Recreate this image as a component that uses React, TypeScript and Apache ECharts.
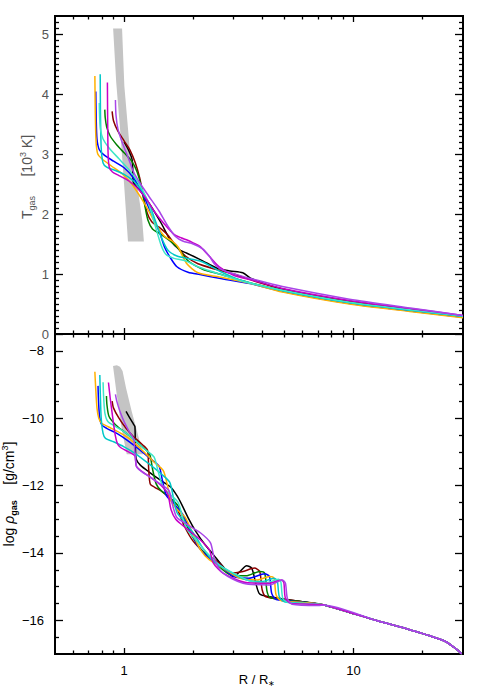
import React, { useEffect, useRef } from "react";
import * as echarts from "echarts";

// ---------- axis ranges & ticks ----------
const R_MIN = 0.5;
const R_MAX = 30;
const T_MIN = 0;
const T_MAX = 5.3;
const RHO_MIN = -17;
const RHO_MAX = -7.5;

const xMajorTicks = [1, 10];
const xMinorTicks = [0.6, 0.7, 0.8, 0.9, 2, 3, 4, 5, 6, 7, 8, 9, 20];
const tMajorTicks = [0, 1, 2, 3, 4, 5];
const rhoMajorTicks = [-16, -14, -12, -10, -8];

// ---------- gray bands (R, value) ----------
const bandT = [
  [0.896, 5.09], [0.924, 4.2], [0.966, 3.3], [1.004, 2.4], [1.04, 1.54],
  [1.22, 1.54], [1.2, 1.9], [1.14, 2.5], [1.062, 3.02], [1.003, 4.13], [0.98, 5.09],
];
const bandRho = [
  [0.895, -8.45], [0.925, -9.2], [0.96, -10.0], [0.995, -10.6], [1.027, -11.07],
  [1.21, -11.07], [1.15, -10.5], [1.08, -9.8], [1.02, -9.1], [0.985, -8.6], [0.96, -8.47], [0.93, -8.43],
];

// ---------- top panel: T_gas [10^3 K] vs R ----------
const tOrange = [[0.746,4.30],[0.749,3.7],[0.755,3.2],[0.768,3.0],[0.80,2.92],[0.88,2.8],[0.98,2.67],[1.08,2.5],[1.18,2.28],[1.28,2.05],[1.38,1.82],[1.5,1.63],[1.62,1.55],[1.72,1.45],[1.87,1.18],[2.1,1.02],[2.6,0.95],[3.5,0.85],[4.9,0.7],[9.6,0.5],[18,0.37],[30,0.27]];
const tBlue = [[0.753,4.04],[0.756,3.6],[0.762,3.25],[0.78,3.07],[0.82,2.98],[0.9,2.88],[1.0,2.77],[1.1,2.6],[1.2,2.35],[1.3,2.05],[1.38,1.82],[1.43,1.69],[1.5,1.45],[1.58,1.29],[1.7,1.12],[1.9,1.03],[2.14,0.99],[2.6,0.93],[3.53,0.84],[4.9,0.71],[9.6,0.51],[18,0.38],[30,0.28]];
const tCyan = [[0.787,4.33],[0.789,3.7],[0.795,3.1],[0.81,2.85],[0.84,2.78],[0.91,2.73],[1.0,2.66],[1.1,2.55],[1.2,2.38],[1.3,2.12],[1.38,1.85],[1.45,1.62],[1.55,1.4],[1.7,1.3],[1.95,1.25],[2.2,1.2],[2.6,1.05],[3.2,0.9],[4.9,0.72],[9.6,0.52],[18,0.39],[30,0.29]];
const tTurq = [[0.78,3.85],[0.783,3.6],[0.79,3.4],[0.81,3.25],[0.86,3.1],[0.95,2.92],[1.05,2.74],[1.15,2.53],[1.25,2.27],[1.32,2.0],[1.38,1.75],[1.45,1.48],[1.52,1.33],[1.65,1.26],[1.85,1.22],[2.1,1.12],[2.6,1.0],[3.3,0.88],[4.9,0.73],[9.6,0.53],[18,0.4],[30,0.3]];
const tGreen = [[0.824,3.74],[0.828,3.6],[0.84,3.45],[0.87,3.3],[0.93,3.15],[1.0,3.02],[1.08,2.88],[1.14,2.7],[1.19,2.45],[1.23,2.15],[1.27,1.9],[1.33,1.75],[1.42,1.68],[1.55,1.58],[1.7,1.45],[1.9,1.22],[2.2,1.08],[2.6,1.0],[3.5,0.86],[4.9,0.73],[9.6,0.53],[18,0.4],[30,0.3]];
const tMagenta = [[0.846,4.19],[0.848,3.6],[0.852,3.0],[0.862,2.78],[0.89,2.7],[0.95,2.64],[1.05,2.55],[1.15,2.42],[1.25,2.25],[1.35,2.05],[1.5,1.83],[1.65,1.66],[1.78,1.6],[1.87,1.57],[2.0,1.52],[2.14,1.46],[2.36,1.29],[2.6,1.12],[3.0,0.98],[3.6,0.9],[4.9,0.76],[9.6,0.56],[18,0.42],[30,0.31]];
const tDarkred = [[0.887,3.71],[0.9,3.55],[0.94,3.38],[1.0,3.22],[1.06,3.07],[1.12,2.85],[1.17,2.6],[1.21,2.32],[1.26,2.02],[1.32,1.87],[1.42,1.78],[1.55,1.65],[1.7,1.45],[1.85,1.3],[2.1,1.17],[2.5,1.08],[3.0,1.0],[4.0,0.84],[6,0.68],[9.6,0.54],[18,0.41],[30,0.3]];
const tPurple = [[0.917,3.9],[0.922,3.65],[0.94,3.42],[0.98,3.2],[1.04,2.95],[1.1,2.7],[1.18,2.5],[1.28,2.3],[1.42,2.05],[1.55,1.8],[1.68,1.62],[1.8,1.55],[2.0,1.5],[2.2,1.42],[2.35,1.3],[2.5,1.15],[2.7,1.06],[3.1,0.99],[3.6,0.92],[4.9,0.79],[9.6,0.58],[18,0.43],[30,0.31]];
const tBlack = [[1.0,3.2],[1.05,3.05],[1.085,2.9],[1.092,2.65],[1.1,2.52],[1.18,2.38],[1.3,2.15],[1.45,1.85],[1.6,1.55],[1.75,1.4],[1.87,1.35],[2.2,1.22],[2.53,1.1],[2.9,1.05],[3.29,1.02],[3.6,0.92],[4.9,0.75],[9.6,0.54],[18,0.4],[30,0.3]];

// ---------- bottom panel: log rho_gas vs R ----------
const rhoTail = [[7.5,-15.55],[12.5,-16.0],[18,-16.3],[25,-16.62],[28,-16.85],[29.6,-17.0]];
const rOrange = [[0.746,-8.62],[0.752,-9.1],[0.762,-9.7],[0.776,-10.0],[0.80,-10.15],[0.88,-10.3],[0.97,-10.45],[1.06,-10.62],[1.2,-10.95],[1.35,-11.3],[1.48,-11.55],[1.54,-11.95],[1.6,-12.45],[1.7,-12.7],[1.85,-12.95],[2.0,-13.45],[2.15,-13.9],[2.35,-14.2],[2.7,-14.45],[3.2,-14.75],[3.8,-14.8],[4.3,-14.7],[4.5,-14.75],[4.6,-15.25],[4.85,-15.42],[6.0,-15.47]];
const rBlue = [[0.77,-9.04],[0.774,-9.5],[0.782,-9.95],[0.8,-10.2],[0.84,-10.3],[0.93,-10.45],[1.03,-10.65],[1.15,-10.9],[1.3,-11.2],[1.42,-11.42],[1.47,-11.85],[1.53,-12.3],[1.63,-12.5],[1.8,-12.85],[1.95,-13.35],[2.1,-13.8],[2.3,-14.1],[2.6,-14.35],[3.0,-14.7],[3.5,-14.75],[4.1,-14.62],[4.3,-14.7],[4.4,-15.2],[4.6,-15.38],[6.0,-15.46]];
const rCyan = [[0.784,-8.72],[0.788,-9.3],[0.795,-10.0],[0.81,-10.45],[0.83,-10.6],[0.9,-10.7],[1.0,-10.85],[1.12,-11.05],[1.28,-11.35],[1.45,-11.65],[1.58,-11.9],[1.64,-12.35],[1.7,-12.8],[1.82,-13.05],[2.0,-13.4],[2.2,-13.85],[2.45,-14.25],[2.8,-14.5],[3.4,-14.8],[4.0,-14.85],[4.5,-14.75],[4.65,-14.82],[4.75,-15.3],[5.0,-15.45],[6.2,-15.5]];
const rTurq = [[0.81,-8.93],[0.815,-9.4],[0.825,-9.85],[0.85,-10.1],[0.92,-10.25],[1.0,-10.4],[1.1,-10.62],[1.22,-10.9],[1.35,-11.15],[1.41,-11.6],[1.48,-12.05],[1.58,-12.25],[1.72,-12.5],[1.8,-12.95],[1.88,-13.3],[2.05,-13.6],[2.3,-14.0],[2.6,-14.35],[3.0,-14.6],[3.6,-14.85],[4.2,-14.88],[4.7,-14.78],[4.82,-14.85],[4.92,-15.35],[5.2,-15.47],[6.3,-15.5]];
const rGreen = [[0.838,-9.34],[0.842,-9.6],[0.86,-9.95],[0.92,-10.2],[1.0,-10.4],[1.1,-10.62],[1.2,-10.85],[1.29,-11.05],[1.33,-11.5],[1.38,-11.95],[1.45,-12.15],[1.58,-12.35],[1.72,-12.6],[1.82,-13.0],[1.98,-13.5],[2.2,-13.95],[2.5,-14.3],[2.9,-14.65],[3.4,-14.68],[3.9,-14.55],[4.1,-14.6],[4.2,-15.15],[4.35,-15.33],[6.0,-15.45]];
const rMagenta = [[0.855,-8.94],[0.87,-9.4],[0.895,-10.05],[0.915,-10.5],[0.935,-10.75],[0.965,-10.87],[1.06,-11.02],[1.115,-11.12],[1.13,-11.42],[1.19,-11.57],[1.3,-11.75],[1.45,-12.0],[1.55,-12.25],[1.6,-12.7],[1.68,-13.0],[1.85,-13.25],[2.1,-13.55],[2.35,-13.9],[2.45,-14.3],[2.7,-14.6],[3.4,-14.88],[4.3,-14.9],[4.85,-14.8],[4.97,-14.88],[5.05,-15.35],[5.35,-15.5],[6.5,-15.52]];
const rDarkred = [[0.887,-9.49],[0.9,-9.7],[0.95,-10.0],[1.02,-10.3],[1.1,-10.55],[1.2,-10.78],[1.265,-10.95],[1.28,-11.5],[1.3,-11.95],[1.36,-12.05],[1.48,-12.2],[1.62,-12.45],[1.72,-12.75],[1.83,-13.2],[2.0,-13.65],[2.25,-14.0],[2.6,-14.3],[2.9,-14.6],[3.3,-14.55],[3.7,-14.45],[3.9,-14.55],[4.0,-15.1],[4.15,-15.3],[5.0,-15.38],[6.0,-15.45]];
const rPurple = [[0.917,-9.29],[0.93,-9.5],[0.96,-9.8],[1.0,-10.1],[1.05,-10.38],[1.1,-10.6],[1.115,-11.0],[1.135,-11.45],[1.19,-11.58],[1.3,-11.75],[1.45,-11.97],[1.57,-12.15],[1.63,-12.6],[1.7,-12.95],[1.88,-13.15],[2.15,-13.4],[2.38,-13.7],[2.48,-14.2],[2.7,-14.6],[3.3,-14.9],[4.3,-14.95],[4.9,-14.8],[5.05,-14.9],[5.15,-15.35],[5.4,-15.52],[7.0,-15.56]];
const rBlack = [[1.02,-9.8],[1.06,-10.0],[1.1,-10.18],[1.115,-10.25],[1.12,-10.8],[1.13,-11.22],[1.18,-11.4],[1.3,-11.62],[1.45,-11.85],[1.6,-12.05],[1.7,-12.3],[1.78,-12.55],[1.9,-12.95],[2.05,-13.35],[2.25,-13.75],[2.45,-14.05],[2.7,-14.4],[3.0,-14.7],[3.2,-14.55],[3.42,-14.38],[3.6,-14.45],[3.75,-14.9],[3.9,-15.22],[4.3,-15.3],[6.0,-15.45]];

const COLORS = {
  black: "#000000",
  darkred: "#8b0000",
  green: "#007f00",
  blue: "#0000ff",
  orange: "#ffb000",
  cyan: "#00c8c8",
  turq: "#3ce6c8",
  magenta: "#c800c8",
  purple: "#a845e8",
};

const topLines = [
  { c: COLORS.black, d: tBlack },
  { c: COLORS.darkred, d: tDarkred },
  { c: COLORS.green, d: tGreen },
  { c: COLORS.blue, d: tBlue },
  { c: COLORS.orange, d: tOrange },
  { c: COLORS.cyan, d: tCyan },
  { c: COLORS.turq, d: tTurq },
  { c: COLORS.magenta, d: tMagenta },
  { c: COLORS.purple, d: tPurple },
];
const bottomLines = [
  { c: COLORS.black, d: rBlack },
  { c: COLORS.darkred, d: rDarkred },
  { c: COLORS.green, d: rGreen },
  { c: COLORS.blue, d: rBlue },
  { c: COLORS.orange, d: rOrange },
  { c: COLORS.cyan, d: rCyan },
  { c: COLORS.turq, d: rTurq },
  { c: COLORS.magenta, d: rMagenta },
  { c: COLORS.purple, d: rPurple },
];

const FONT = "'Liberation Sans', Arial, Helvetica, sans-serif";
const LX_MIN = Math.log10(R_MIN);
const LX_MAX = Math.log10(R_MAX);
const xMajorLog = xMajorTicks.map((v) => Math.log10(v));
const xMinorLog = xMinorTicks.map((v) => Math.log10(v));

const tMinorTicks: number[] = [];
for (let i = 1; i <= 52; i++) if (i % 10 !== 0) tMinorTicks.push(i / 10);
const rhoMinorTicks: number[] = [];
for (let v = -16.5; v <= -8; v += 0.5) if (v % 2 !== 0) rhoMinorTicks.push(v);

const tickLine = { color: "#000", width: 1.3 };
const noLine = { show: false, onZero: false };

function xAxesFor(grid: number, showLabels: boolean) {
  const base = {
    type: "value",
    gridIndex: grid,
    min: LX_MIN,
    max: LX_MAX,
    axisLine: noLine,
    splitLine: { show: false },
    splitArea: { show: false },
  };
  const major = (pos: string, labels: boolean) => ({
    ...base,
    position: pos,
    axisTick: { show: true, inside: true, length: 6, lineStyle: tickLine, customValues: xMajorLog },
    axisLabel: {
      show: labels,
      customValues: xMajorLog,
      formatter: (v: number) => String(Math.round(Math.pow(10, v))),
      margin: 10,
      color: "#000",
      fontSize: 13,
      fontFamily: FONT,
    },
  });
  const minor = (pos: string) => ({
    ...base,
    position: pos,
    axisTick: { show: true, inside: true, length: 3.5, lineStyle: tickLine, customValues: xMinorLog },
    axisLabel: { show: false },
  });
  return [
    { type: "log", gridIndex: grid, min: R_MIN, max: R_MAX, show: false, logBase: 10, axisLine: noLine },
    major("bottom", showLabels),
    minor("bottom"),
    major("top", false),
    minor("top"),
  ];
}

function yAxesFor(grid: number, min: number, max: number, majors: number[], minors: number[], color: string, margin: number) {
  const base = {
    type: "value",
    gridIndex: grid,
    min,
    max,
    axisLine: noLine,
    splitLine: { show: false },
    splitArea: { show: false },
  };
  const major = (pos: string, labels: boolean) => ({
    ...base,
    position: pos,
    axisTick: { show: true, inside: true, length: 8, lineStyle: tickLine, customValues: majors },
    axisLabel: {
      show: labels,
      customValues: majors,
      formatter: (v: number) => String(v).replace("-", "\u2212"),
      margin,
      color,
      fontSize: 13,
      fontFamily: FONT,
    },
  });
  const minor = (pos: string) => ({
    ...base,
    position: pos,
    axisTick: { show: true, inside: true, length: 4, lineStyle: tickLine, customValues: minors },
    axisLabel: { show: false },
  });
  return [major("left", true), minor("left"), major("right", false), minor("right")];
}

function bandSeries(points: number[][], xi: number, yi: number) {
  return {
    type: "custom",
    xAxisIndex: xi,
    yAxisIndex: yi,
    data: points,
    silent: true,
    clip: true,
    z: 1,
    renderItem: (params: any, api: any) => {
      if (params.dataIndex !== 0) return null;
      const pts = points.map((p) => api.coord(p));
      return { type: "polygon", shape: { points: pts }, style: { fill: "#c4c4c4" } };
    },
  };
}

function lineSeries(lines: { c: string; d: number[][] }[], xi: number, yi: number, tail?: number[][]) {
  return lines.map((l, i) => ({
    type: "line",
    xAxisIndex: xi,
    yAxisIndex: yi,
    data: tail ? l.d.concat(tail) : l.d,
    symbol: "none",
    showSymbol: false,
    smooth: 0.25,
    silent: true,
    clip: true,
    z: 3 + i,
    lineStyle: { color: l.c, width: 1.5 },
    itemStyle: { color: l.c },
  }));
}

export default function App() {
  const ref = useRef<HTMLDivElement>(null);
  useEffect(() => {
    if (!ref.current) return;
    const chart = echarts.init(ref.current, undefined, { renderer: "svg" });
    const option: any = {
      animation: false,
      backgroundColor: "#fff",
      grid: [
        { left: 55, top: 16, width: 408, height: 318, show: true, borderColor: "#000", borderWidth: 2, backgroundColor: "transparent" },
        { left: 55, top: 334, width: 408, height: 320, show: true, borderColor: "#000", borderWidth: 2, backgroundColor: "transparent" },
      ],
      xAxis: [...xAxesFor(0, false), ...xAxesFor(1, true)],
      yAxis: [
        ...yAxesFor(0, T_MIN, T_MAX, tMajorTicks, tMinorTicks, "#555", 6),
        ...yAxesFor(1, RHO_MIN, RHO_MAX, rhoMajorTicks, rhoMinorTicks, "#000", 11),
      ],
      series: [
        bandSeries(bandT, 0, 0),
        ...lineSeries(topLines, 0, 0),
        bandSeries(bandRho, 5, 4),
        ...lineSeries(bottomLines, 5, 4, rhoTail),
      ],
      graphic: [
        {
          type: "text",
          x: 27,
          y: 177,
          rotation: Math.PI / 2,
          silent: true,
          style: {
            text: "{a|T}{s|gas}{a|     [10}{p|3}{a| K]}",
            align: "center",
            verticalAlign: "middle",
            fontFamily: FONT,
            rich: {
              a: { fontSize: 14, fill: "#555", fontFamily: FONT, lineHeight: 18, verticalAlign: "middle" },
              s: { fontSize: 9, fill: "#555", fontFamily: FONT, lineHeight: 18, verticalAlign: "bottom" },
              p: { fontSize: 9, fill: "#555", fontFamily: FONT, lineHeight: 18, verticalAlign: "top" },
            },
          },
        },
        {
          type: "text",
          x: 9,
          y: 494,
          rotation: Math.PI / 2,
          silent: true,
          style: {
            text: "{a|log }{g|\u03c1}{s|gas}{a|    [g/cm}{p|3}{a|]}",
            align: "center",
            verticalAlign: "middle",
            fontFamily: FONT,
            rich: {
              a: { fontSize: 14, fill: "#000", fontFamily: FONT, lineHeight: 18, verticalAlign: "middle" },
              g: { fontSize: 14, fill: "#000", fontFamily: FONT, fontStyle: "italic", lineHeight: 18, verticalAlign: "middle" },
              s: { fontSize: 9, fill: "#000", fontFamily: FONT, fontWeight: "bold", lineHeight: 18, verticalAlign: "bottom" },
              p: { fontSize: 9, fill: "#000", fontFamily: FONT, lineHeight: 18, verticalAlign: "top" },
            },
          },
        },
        {
          type: "text",
          x: 257,
          y: 673,
          silent: true,
          style: {
            text: "{a|R / R}{s|\u2217}",
            align: "center",
            verticalAlign: "top",
            fontFamily: FONT,
            rich: {
              a: { fontSize: 13, fill: "#000", fontFamily: FONT, lineHeight: 14, verticalAlign: "top" },
              s: { fontSize: 8, fill: "#000", fontFamily: FONT, lineHeight: 14, verticalAlign: "bottom" },
            },
          },
        },
      ],
    };
    chart.setOption(option);
    return () => chart.dispose();
  }, []);
  return (
    <div
      ref={ref}
      style={{ position: "fixed", left: 0, top: 0, width: 480, height: 689, background: "#fff" }}
    />
  );
}
